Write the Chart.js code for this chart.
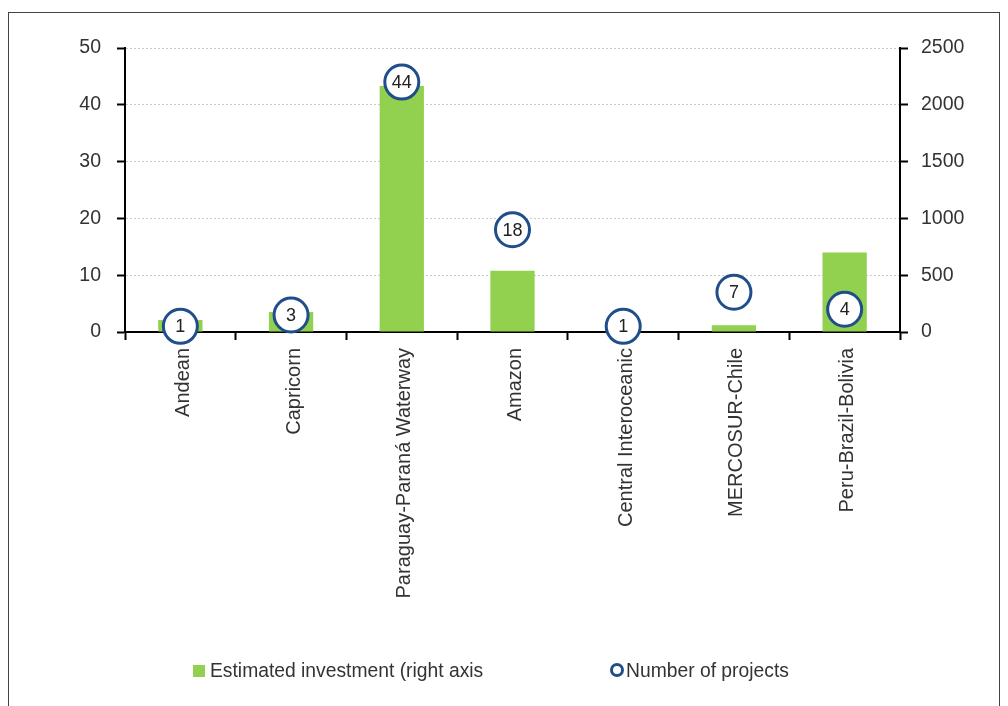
<!DOCTYPE html>
<html>
<head>
<meta charset="utf-8">
<script src="https://cdn.jsdelivr.net/npm/chart.js@4"></script>
<style>
  html, body { margin: 0; padding: 0; background: #fff; }
  #wrap { position: relative; width: 1008px; height: 706px; overflow: hidden; }
  #frame { position: absolute; left: 8px; top: 12px; width: 992px; height: 760px; border: 1px solid #444; box-sizing: border-box; }
  canvas { position: absolute; left: 0; top: 0; }
</style>
</head>
<body>
<div id="wrap">
  <div id="frame"></div>
  <canvas id="c" width="1008" height="706"></canvas>
</div>
<script>
// Infrastructure corridors
const categories = ['Andean', 'Capricorn', 'Paraguay-Paraná Waterway', 'Amazon', 'Central Interoceanic', 'MERCOSUR-Chile', 'Peru-Brazil-Bolivia'];
// Estimated investment (right axis)
const investment = [105, 175, 2165, 540, 0, 60, 700];
// Number of projects (left axis)
const projects = [1, 3, 44, 18, 1, 7, 4];
const leftTicks = [0, 10, 20, 30, 40, 50];
const rightTicks = [0, 500, 1000, 1500, 2000, 2500];
const seriesNames = ['Estimated investment (right axis', 'Number of projects'];

const FONT = "'Liberation Sans', Arial, sans-serif";
const GREEN = '#92d050';
const BLUE = '#1f4e8a';
const TEXT = '#333';

// Numbers written inside the project circles
const circleLabels = {
  id: 'circleLabels',
  afterDatasetsDraw(chart) {
    const meta = chart.getDatasetMeta(1);
    const ctx = chart.ctx;
    ctx.save();
    ctx.font = '18px ' + FONT;
    ctx.fillStyle = '#222';
    ctx.textAlign = 'center';
    ctx.textBaseline = 'middle';
    meta.data.forEach((pt, i) => {
      ctx.fillText(String(chart.data.datasets[1].data[i]), pt.x, pt.y + 1);
    });
    ctx.restore();
  }
};

// Legend row along the bottom
const bottomLegend = {
  id: 'bottomLegend',
  afterDraw(chart) {
    const ctx = chart.ctx;
    const y = 671;
    ctx.save();
    ctx.font = '19.3px ' + FONT;
    ctx.textBaseline = 'middle';
    ctx.textAlign = 'left';
    ctx.fillStyle = GREEN;
    ctx.fillRect(193, y - 6, 12, 12);
    ctx.fillStyle = TEXT;
    ctx.fillText(chart.data.datasets[0].label, 210, y + 1);
    ctx.beginPath();
    ctx.arc(617, y - 1, 5.5, 0, Math.PI * 2);
    ctx.lineWidth = 3;
    ctx.strokeStyle = BLUE;
    ctx.fillStyle = '#fff';
    ctx.fill();
    ctx.stroke();
    ctx.fillStyle = TEXT;
    ctx.fillText(chart.data.datasets[1].label, 626, y + 1);
    ctx.restore();
  }
};

new Chart(document.getElementById('c'), {
  data: {
    labels: categories,
    datasets: [
      {
        type: 'bar',
        label: seriesNames[0],
        data: investment,
        yAxisID: 'y1',
        backgroundColor: GREEN,
        borderWidth: 0,
        barPercentage: 0.4,
        categoryPercentage: 1,
        order: 1
      },
      {
        type: 'line',
        label: seriesNames[1],
        data: projects,
        yAxisID: 'y',
        showLine: false,
        pointRadius: 17,
        pointHoverRadius: 17,
        pointBorderWidth: 3,
        pointBackgroundColor: '#fff',
        pointBorderColor: BLUE,
        clip: false,
        order: 0
      }
    ]
  },
  options: {
    responsive: false,
    animation: false,
    events: [],
    layout: { padding: { top: 48, bottom: 0, left: 0, right: 0 } },
    plugins: {
      legend: { display: false },
      tooltip: { enabled: false }
    },
    scales: {
      x: {
        offset: true,
        grid: { offset: true, drawOnChartArea: false, drawTicks: true, tickLength: 8, tickColor: '#000', tickWidth: 2 },
        border: { display: true, color: '#000', width: 2 },
        ticks: {
          font: { family: FONT, size: 20 },
          color: TEXT,
          maxRotation: 90,
          minRotation: 90,
          padding: 8,
          labelOffset: 3,
          autoSkip: false
        },
        afterFit(s) { s.height = 706 - 332; }
      },
      y: {
        position: 'left',
        min: 0,
        max: 50,
        afterBuildTicks(s) { s.ticks = leftTicks.map(v => ({ value: v })); },
        grid: {
          color: (c) => c.tick && c.tick.value === 0 ? 'rgba(0,0,0,0)' : '#cacaca',
          lineWidth: 1,
          drawTicks: true,
          tickLength: 8,
          tickColor: '#000',
          tickWidth: 2,
          tickBorderDash: []
        },
        border: { display: true, color: '#000', width: 2, dash: [2, 2] },
        ticks: { font: { family: FONT, size: 19.5 }, color: TEXT, padding: 16, callback: (v) => String(v) },
        afterFit(s) { s.width = 125; }
      },
      y1: {
        position: 'right',
        min: 0,
        max: 2500,
        afterBuildTicks(s) { s.ticks = rightTicks.map(v => ({ value: v })); },
        grid: { drawOnChartArea: false, drawTicks: true, tickLength: 8, tickColor: '#000', tickWidth: 2 },
        border: { display: true, color: '#000', width: 2 },
        ticks: { font: { family: FONT, size: 19.5 }, color: TEXT, padding: 13, callback: (v) => String(v) },
        afterFit(s) { s.width = 1008 - 900; }
      }
    }
  },
  plugins: [circleLabels, bottomLegend]
});
</script>
</body>
</html>
